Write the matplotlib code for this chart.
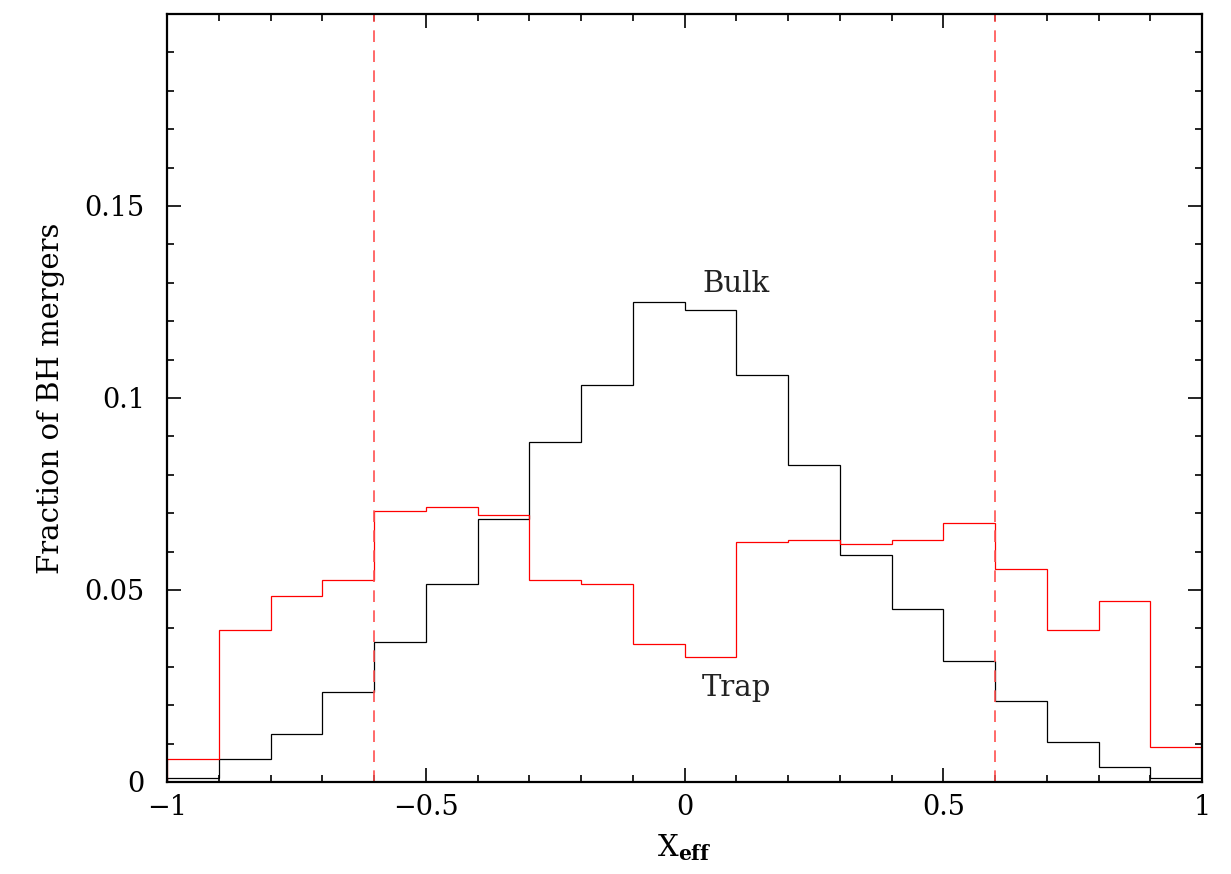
import numpy as np
import matplotlib.pyplot as plt
from matplotlib.ticker import MultipleLocator

plt.rcParams['font.family'] = 'DejaVu Serif'
plt.rcParams['mathtext.fontset'] = 'dejavuserif'

# bin edges of chi_eff histogram
edges = np.round(np.arange(-1.0, 1.01, 0.1), 2)

# fraction of mergers per bin
bulk = [0.001, 0.006, 0.0125, 0.0235, 0.0365, 0.0515, 0.0685, 0.0885, 0.1035, 0.125,
        0.123, 0.106, 0.0825, 0.059, 0.045, 0.0315, 0.021, 0.0105, 0.004, 0.001]
trap = [0.006, 0.0395, 0.0485, 0.0525, 0.0705, 0.0715, 0.0695, 0.0525, 0.0515, 0.036,
        0.0325, 0.0625, 0.063, 0.062, 0.063, 0.0675, 0.0555, 0.0395, 0.047, 0.009]
vlines = [-0.6, 0.6]

fig = plt.figure(figsize=(12.31, 8.74), dpi=100)
ax = fig.add_axes([0.1357, 0.1053, 0.8408, 0.8787])

ax.stairs(bulk, edges, color='black', lw=0.9)
ax.stairs(trap, edges, color='red', lw=0.9)
for v in vlines:
    ax.axvline(v, color='#ff5050', lw=1.2, ls=(0, (7, 5)))

ax.text(0.1, 0.1297, 'Bulk', fontsize=21, ha='center', va='center', color='#222222')
ax.text(0.1, 0.0245, 'Trap', fontsize=21, ha='center', va='center', color='#222222')

ax.set_xlim(-1, 1)
ax.set_ylim(0, 0.2)
ax.xaxis.set_major_locator(MultipleLocator(0.5))
ax.xaxis.set_minor_locator(MultipleLocator(0.1))
ax.yaxis.set_major_locator(MultipleLocator(0.05))
ax.yaxis.set_minor_locator(MultipleLocator(0.01))
ax.set_yticks([0, 0.05, 0.1, 0.15])
ax.set_yticklabels(['0', '0.05', '0.1', '0.15'])
ax.set_xticks([-1, -0.5, 0, 0.5, 1])
ax.set_xticklabels(['\u22121', '\u22120.5', '0', '0.5', '1'])

ax.tick_params(which='both', direction='in', top=True, right=True, labelsize=19.5, width=1.2)
ax.tick_params(which='major', length=10)
ax.tick_params(axis='x', which='major', pad=9)
ax.tick_params(axis='y', which='major', pad=16)
ax.tick_params(which='minor', length=5)
for s in ax.spines.values():
    s.set_linewidth(1.6)

ax.set_xlabel(r'$\mathrm{X}_{\mathbf{eff}}$', fontsize=21, labelpad=8)
ax.set_ylabel('Fraction of BH mergers', fontsize=21, labelpad=14)

fig.savefig('out.png', dpi=100)
